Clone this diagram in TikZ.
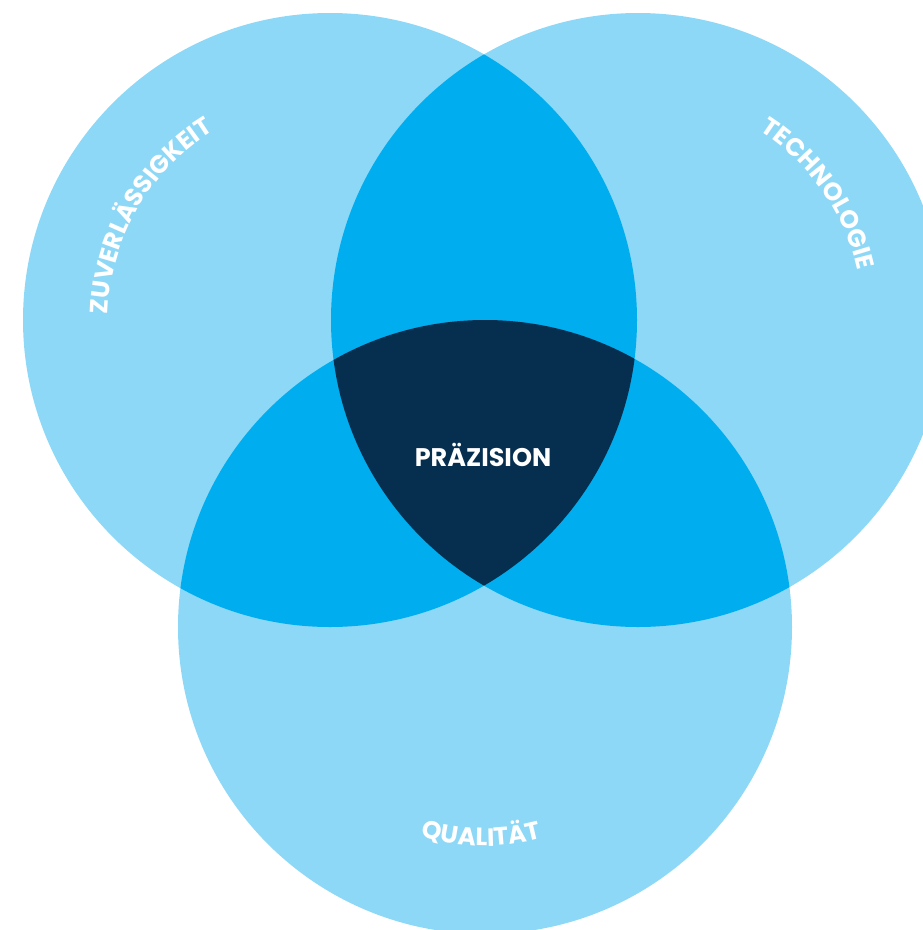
\documentclass[tikz,border=0pt]{standalone}
\usepackage{fontspec}
\setsansfont{Poppins}
\usetikzlibrary{calc,decorations.text}

\definecolor{hellblau}{RGB}{142,216,247}
\definecolor{mittelblau}{RGB}{0,174,239}
\definecolor{dunkelblau}{RGB}{5,46,79}

\newcommand\bogenschrift{\sffamily\bfseries\fontsize{25}{25}\selectfont}

\tikzset{
  kreis/.style={fill=hellblau},
  schnitt/.style={fill=mittelblau},
  kern/.style={fill=dunkelblau},
  bogentext/.style={font=\bogenschrift, decorate, decoration={text along path, text align=center,
      text color=white, text={|\bogenschrift|#1}}}
}

\begin{document}
\begin{tikzpicture}[x=1pt, y=-1pt]
  \useasboundingbox (0,0) rectangle (923,930);

  %  Mittelpunkte
  \coordinate (Z) at (330,320);
  \coordinate (T) at (638,320);
  \coordinate (Q) at (485,627);

  %  Kreise
  \path[kreis] (Z) circle[radius=307pt];
  \path[kreis] (T) circle[radius=307pt];
  \path[kreis] (Q) circle[radius=307pt];

  %------------------------------------------------------------
  \begin{scope}
    \clip (Z) circle[radius=307pt];
    \path[schnitt] (T) circle[radius=307pt];
    \path[schnitt] (Q) circle[radius=307pt];
  \end{scope}
  \begin{scope}
    \clip (T) circle[radius=307pt];
    \path[schnitt] (Q) circle[radius=307pt];
  \end{scope}
  \begin{scope}
    \clip (Z) circle[radius=307pt];
    \clip (T) circle[radius=307pt];
    \path[kern] (Q) circle[radius=307pt];
  \end{scope}

  %------------------------------------------------------------
  \path[bogentext=ZUVERLÄSSIGKEIT] ($(Z)+(196:222pt)$) arc[start angle=196, end angle=104, radius=222pt];
  \path[bogentext=TECHNOLOGIE] ($(T)+(80:225pt)$) arc[start angle=80, end angle=-10, radius=225pt];
  \path[bogentext=QUALITÄT] ($(Q)+(234:219pt)$) arc[start angle=234, end angle=304, radius=219pt];

  \node[font=\sffamily\bfseries\fontsize{25.5}{25.5}\selectfont, text=white] (P) at (483,455) {PRÄZISION};

\end{tikzpicture}
\end{document}
